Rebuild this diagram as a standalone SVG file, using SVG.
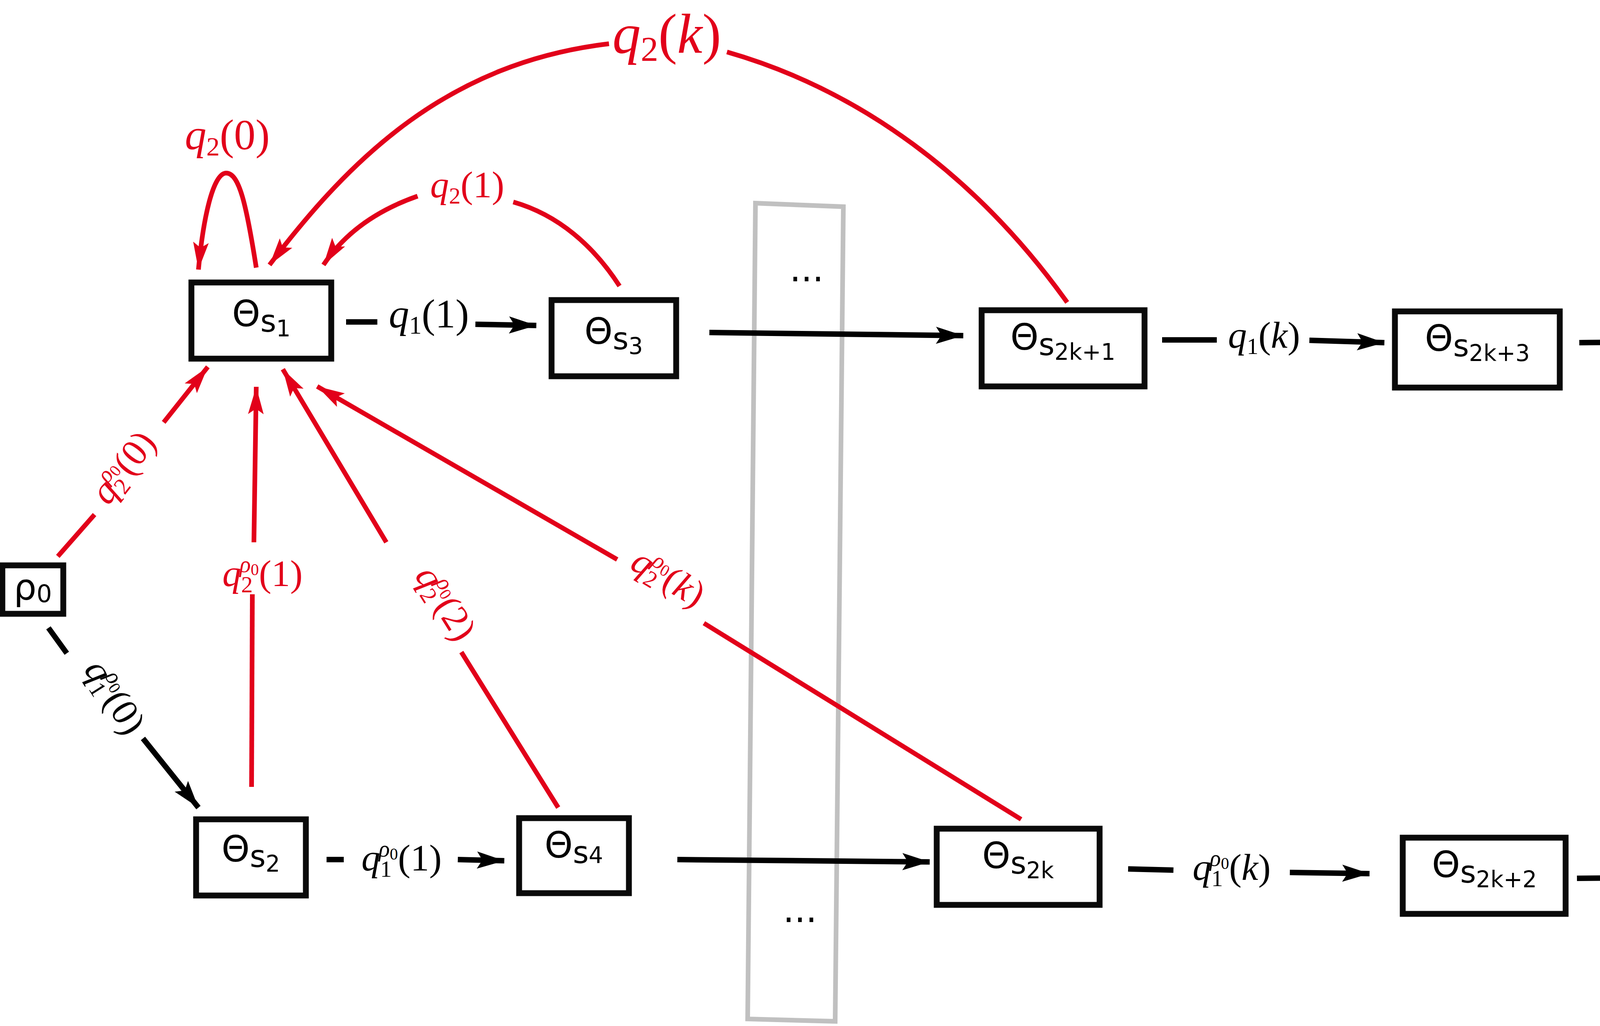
<svg xmlns="http://www.w3.org/2000/svg" width="4631" height="2626" viewBox="0 0 4631 2626">
<style>
.n{fill:#fff;stroke:#0a0a0a;stroke-width:15}
.t{font-family:"DejaVu Sans",sans-serif;font-size:92px;fill:#000}
.s{font-size:78px}
.d{font-size:58px}
.b{fill:none;stroke:#000;stroke-width:14}
.r{fill:none;stroke:#e2001a;stroke-width:12}
.m{font-family:"Liberation Serif",serif;fill:#000}
.mr{font-family:"Liberation Serif",serif;fill:#e2001a}
.i{font-style:italic}
.sm{font-size:62%}
</style>
<defs>
<marker id="ab" markerUnits="userSpaceOnUse" markerWidth="80" markerHeight="60" refX="70" refY="30" orient="auto"><path d="M0,8 L70,30 L0,52 L14,30 Z" fill="#000"/></marker>
<marker id="ar" markerUnits="userSpaceOnUse" markerWidth="80" markerHeight="60" refX="70" refY="30" orient="auto"><path d="M0,10 L70,30 L0,50 L14,30 Z" fill="#e2001a"/></marker>
</defs>
<polygon points="1934,520 2159,529 2138,2614 1914,2608" fill="none" stroke="#c0c0c0" stroke-width="12"/>
<text x="2065" y="720" class="t" text-anchor="middle" font-size="70">...</text>
<text x="2048" y="2360" class="t" text-anchor="middle" font-size="70">...</text>
<g id="connectors">
<path class="b" d="M886,824 L966,824"/>
<path class="b" d="M1217,830 L1373,833" marker-end="url(#ab)"/>
<path class="b" d="M1816,851 L2466,859" marker-end="url(#ab)"/>
<path class="b" d="M2975,870 L3115,870"/>
<path class="b" d="M3352,871 L3544,877" marker-end="url(#ab)"/>
<path class="b" d="M4043,877 L4365,874" marker-end="url(#ab)"/>
<path class="b" d="M124,1607 L171,1672"/>
<path class="b" d="M366,1890 L508,2067" marker-end="url(#ab)"/>
<path class="b" d="M836,2200 L880,2200"/>
<path class="b" d="M1172,2200 L1291,2203" marker-end="url(#ab)"/>
<path class="b" d="M1734,2200 L2380,2206" marker-end="url(#ab)"/>
<path class="b" d="M2888,2224 L3004,2227"/>
<path class="b" d="M3302,2233 L3506,2236" marker-end="url(#ab)"/>
<path class="b" d="M4037,2248 L4362,2245" marker-end="url(#ab)"/>
<path class="r" d="M148,1424 L242,1317"/>
<path class="r" d="M419,1081 L532,939" marker-end="url(#ar)"/>
<path class="r" d="M644,2014 L646,1521"/>
<path class="r" d="M650,1388 L656,990" marker-end="url(#ar)"/>
<path class="r" d="M1429,2067 L1181,1669"/>
<path class="r" d="M989,1388 L724,945" marker-end="url(#ar)"/>
<path class="r" d="M2614,2097 L1802,1595"/>
<path class="r" d="M1580,1432 L812,989" marker-end="url(#ar)"/>
<path class="r" d="M656,685 C630,520 612,443 579,443 C545,443 520,560 508,690" marker-end="url(#ar)"/>
<path class="r" d="M1586,732 C1520,630 1430,550 1314,517"/>
<path class="r" d="M1069,502 C960,540 880,600 828,678" marker-end="url(#ar)"/>
<path class="r" d="M2732,774 C2500,450 2200,230 1861,133"/>
<path class="r" d="M1559,112 C1150,160 900,400 690,678" marker-end="url(#ar)"/>
</g>
<g class="mr">
<text x="582" y="382" font-size="110" text-anchor="middle"><tspan class="i">q</tspan><tspan class="sm" dy="16">2</tspan><tspan dy="-16">(0)</tspan></text>
<text x="1196" y="505" font-size="96" text-anchor="middle"><tspan class="i">q</tspan><tspan class="sm" dy="16">2</tspan><tspan dy="-16">(1)</tspan></text>
<text x="1707" y="135" font-size="145" text-anchor="middle"><tspan class="i">q</tspan><tspan class="sm" dy="20">2</tspan><tspan dy="-20">(</tspan><tspan class="i">k</tspan><tspan>)</tspan></text>
<text transform="translate(340,1215) rotate(-52)" text-anchor="middle" font-size="96"><tspan class="i">q</tspan><tspan class="sm" dy="16">2</tspan><tspan class="sm i" dx="-34" dy="-52">ρ</tspan><tspan font-size="42" dy="8">0</tspan><tspan dy="28">(0)</tspan></text>
<text x="672" y="1500" font-size="96" text-anchor="middle"><tspan class="i">q</tspan><tspan class="sm" dy="16">2</tspan><tspan class="sm i" dx="-34" dy="-52">ρ</tspan><tspan font-size="42" dy="8">0</tspan><tspan dy="28">(1)</tspan></text>
<text transform="translate(1115,1560) rotate(58)" text-anchor="middle" font-size="96"><tspan class="i">q</tspan><tspan class="sm" dy="16">2</tspan><tspan class="sm i" dx="-34" dy="-52">ρ</tspan><tspan font-size="42" dy="8">0</tspan><tspan dy="28">(2)</tspan></text>
<text transform="translate(1695,1505) rotate(31)" text-anchor="middle" font-size="96"><tspan class="i">q</tspan><tspan class="sm" dy="16">2</tspan><tspan class="sm i" dx="-34" dy="-52">ρ</tspan><tspan font-size="42" dy="8">0</tspan><tspan dy="28">(</tspan><tspan class="i">k</tspan><tspan>)</tspan></text>
</g>
<g class="m">
<text x="1098" y="838" font-size="104" text-anchor="middle"><tspan class="i">q</tspan><tspan class="sm" dy="16">1</tspan><tspan dy="-16">(1)</tspan></text>
<text x="3236" y="890" font-size="96" text-anchor="middle"><tspan class="i">q</tspan><tspan class="sm" dy="16">1</tspan><tspan dy="-16">(</tspan><tspan class="i">k</tspan><tspan>)</tspan></text>
<text transform="translate(268,1800) rotate(58)" text-anchor="middle" font-size="96"><tspan class="i">q</tspan><tspan class="sm" dy="16">1</tspan><tspan class="sm i" dx="-34" dy="-52">ρ</tspan><tspan font-size="42" dy="8">0</tspan><tspan dy="28">(0)</tspan></text>
<text x="1028" y="2228" font-size="96" text-anchor="middle"><tspan class="i">q</tspan><tspan class="sm" dy="16">1</tspan><tspan class="sm i" dx="-34" dy="-52">ρ</tspan><tspan font-size="42" dy="8">0</tspan><tspan dy="28">(1)</tspan></text>
<text x="3153" y="2252" font-size="96" text-anchor="middle"><tspan class="i">q</tspan><tspan class="sm" dy="16">1</tspan><tspan class="sm i" dx="-34" dy="-52">ρ</tspan><tspan font-size="42" dy="8">0</tspan><tspan dy="28">(</tspan><tspan class="i">k</tspan><tspan>)</tspan></text>
</g>
<g id="s1"><rect class="n" x="490" y="723" width="358" height="195"/><text class="t" x="669" y="835" text-anchor="middle">Θ<tspan class="s" dy="14">s</tspan><tspan class="d" dy="12">1</tspan></text></g>
<g id="s3"><rect class="n" x="1412" y="768" width="319" height="195"/><text class="t" x="1571" y="880" text-anchor="middle">Θ<tspan class="s" dy="14">s</tspan><tspan class="d" dy="12">3</tspan></text></g>
<g id="s2k1"><rect class="n" x="2513" y="794" width="417" height="195"/><text class="t" x="2721" y="895" text-anchor="middle">Θ<tspan class="s" dy="14">s</tspan><tspan class="d" dy="12">2k+1</tspan></text></g>
<g id="s2k3"><rect class="n" x="3571" y="797" width="422" height="195"/><text class="t" x="3782" y="898" text-anchor="middle">Θ<tspan class="s" dy="14">s</tspan><tspan class="d" dy="12">2k+3</tspan></text></g>
<g id="dt"><rect class="n" x="4395" y="809" width="221" height="133"/><text class="t" x="4505" y="885" text-anchor="middle" font-size="70">...</text></g>
<g id="rho"><rect class="n" x="6" y="1447" width="156" height="124"/><text class="t" x="84" y="1535" text-anchor="middle" font-size="88">ρ<tspan font-size="62" dy="6">0</tspan></text></g>
<g id="s2"><rect class="n" x="502" y="2097" width="281" height="195"/><text class="t" x="642" y="2205" text-anchor="middle">Θ<tspan class="s" dy="14">s</tspan><tspan class="d" dy="12">2</tspan></text></g>
<g id="s4"><rect class="n" x="1329" y="2094" width="281" height="192"/><text class="t" x="1469" y="2195" text-anchor="middle">Θ<tspan class="s" dy="14">s</tspan><tspan class="d" dy="0">4</tspan></text></g>
<g id="s2k"><rect class="n" x="2398" y="2121" width="417" height="195"/><text class="t" x="2606" y="2222" text-anchor="middle">Θ<tspan class="s" dy="14">s</tspan><tspan class="d" dy="12">2k</tspan></text></g>
<g id="s2k2"><rect class="n" x="3591" y="2144" width="417" height="195"/><text class="t" x="3800" y="2245" text-anchor="middle">Θ<tspan class="s" dy="14">s</tspan><tspan class="d" dy="12">2k+2</tspan></text></g>
<g id="db"><rect class="n" x="4392" y="2191" width="230" height="130"/><text class="t" x="4507" y="2265" text-anchor="middle" font-size="70">...</text></g>
</svg>
